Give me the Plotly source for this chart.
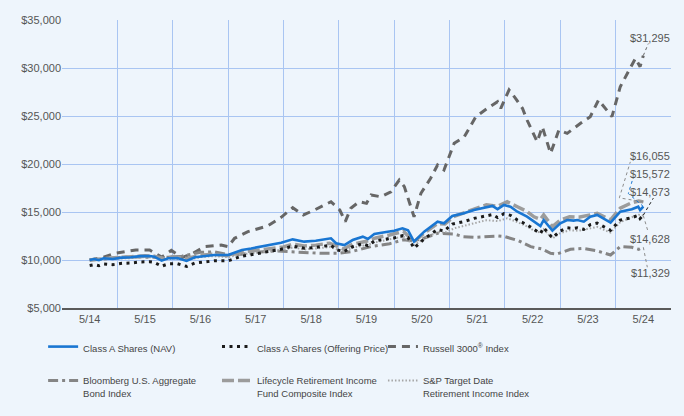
import plotly.graph_objects as go

# ---------------- data (months since 5/2014) ----------------
tick_months = [0, 12, 24, 36, 48, 60, 72, 84, 96, 108, 120]
tick_labels = ["5/14", "5/15", "5/16", "5/17", "5/18", "5/19", "5/20", "5/21", "5/22", "5/23", "5/24"]

nav_months = [0, 1, 2, 3, 5, 7, 9, 11, 13, 14, 15.6, 17, 19, 21, 22.8, 25, 27, 30, 31, 33, 35, 37,
              39.3, 41.5, 44, 46.5, 49, 50.9, 52.3, 53.4, 55.2, 57, 59.2, 60.3, 61.7, 64.6, 66, 67.8,
              69, 70.3, 72.5, 75.4, 76.8, 78.6, 81.1, 83.3, 85, 87.3, 88.4, 89.8, 91.2, 92.7, 94.8,
              96.3, 97.7, 98.4, 100.3, 102, 103.5, 104.9, 105.7, 107.1, 108.5, 110, 112.9, 115,
              117.5, 118.9, 119.3, 120]
nav_values = [10000, 10100, 9980, 10180, 10100, 10250, 10280, 10400, 10420, 10350, 9930, 10180, 10200,
              9900, 10280, 10420, 10520, 10520, 10700, 11040, 11200, 11390, 11560, 11800, 12150, 11910,
              12000, 12150, 12260, 11740, 11560, 12080, 12430, 12190, 12710, 12950, 13050, 13300, 13100,
              11910, 12950, 13990, 13820, 14580, 14860, 15210, 15400, 15630, 15300, 15730, 15550, 15030,
              14510, 13990, 13540, 14170, 13060, 13820, 14170, 14100, 14170, 13990, 14510, 14690, 13890,
              15030, 15280, 15550, 15200, 15572]
offer_values = [9423, 9517, 9404, 9593, 9517, 9659, 9687, 9800, 9819, 9753, 9357, 9593, 9611, 9329,
                9687, 9819, 9913, 9913, 10083, 10403, 10554, 10733, 10893, 11119, 11449, 11223, 11308,
                11449, 11553, 11063, 10893, 11383, 11713, 11487, 11977, 12203, 12297, 12533, 12344,
                11223, 12203, 13183, 13023, 13739, 14003, 14333, 14511, 14728, 14417, 14822, 14653,
                14163, 13673, 13183, 12759, 13353, 12306, 13023, 13353, 13286, 13353, 13183, 13673,
                13842, 13089, 14163, 14398, 14653, 14323, 14673]

russell_months = [0, 3, 5.5, 10, 13, 15.6, 17.7, 20, 22.4, 24.9, 28.5, 30, 31.4, 34.3, 38.6, 41.5, 44,
                  46.3, 48.7, 52.3, 54.2, 55.4, 56.6, 58.4, 60, 61, 63.1, 65.3, 67.1, 68.2, 70.3, 71.8,
                  73.9, 75.4, 76.8, 77.9, 79, 81.2, 83.7, 86.2, 88.4, 89.1, 90.9, 92.3, 93.8, 94.8, 97,
                  98.1, 99.9, 101.7, 103.5, 106.4, 108.5, 110.3, 113.2, 115, 117.2, 118.3, 119.3, 120]
russell_values = [10000, 10300, 10700, 11040, 11040, 10300, 11000, 10250, 10700, 11390, 11560, 11390,
                  12260, 12950, 13560, 14450, 15450, 14690, 15200, 16070, 15210, 14000, 15390, 16070,
                  15900, 16770, 16590, 17110, 18330, 17640, 14510, 16950, 18510, 19900, 19380, 20760,
                  22150, 22840, 24930, 25800, 26490, 25800, 27710, 26840, 25800, 24580, 22320, 23880,
                  21110, 23540, 23190, 24240, 24930, 26670, 24930, 28050, 30140, 31010, 30140, 31295]

bond_months = [0, 4, 8, 12, 16, 20, 24, 27, 30, 33, 36, 40, 44, 47, 50, 54, 57, 61, 65, 68, 70, 72,
               75.4, 79, 81, 83.3, 86, 88.4, 90, 93, 95.6, 98, 99.9, 101.3, 104.2, 107, 110, 112.9,
               115, 117.5, 119, 120]
bond_values = [10000, 10150, 10300, 10300, 10250, 10400, 10800, 10850, 10550, 10600, 10800, 10950,
               10850, 10700, 10700, 10700, 10900, 11400, 11700, 12100, 12000, 12200, 12780, 12700,
               12430, 12360, 12450, 12500, 12430, 12000, 11390, 11150, 10700, 10630, 11110, 11200,
               10950, 10520, 11390, 11320, 11110, 11329]

life_months = [0, 3, 6, 9, 12, 14, 16, 18, 21, 24, 27, 30, 33, 36, 39, 42, 44, 46.5, 49, 52, 55, 57,
               60, 62, 65, 68, 70.3, 72.5, 75.4, 77, 79, 81, 83.5, 86, 88.4, 90.5, 92.7, 94.8, 96.3,
               97.7, 98.4, 100.3, 102, 104, 106, 108.5, 110, 112.9, 115, 117.5, 119, 120]
life_values = [10000, 10150, 10250, 10350, 10450, 10400, 10150, 10350, 10150, 10500, 10600, 10450,
               10850, 11000, 11150, 11350, 11650, 11450, 11550, 11750, 11150, 11650, 11950, 12300,
               12600, 13000, 11900, 12800, 13800, 13750, 14550, 14900, 15300, 15750, 15600, 16070,
               15550, 15050, 14500, 14240, 14700, 13470, 14150, 14500, 14450, 14700, 14850, 14170,
               15400, 15970, 16150, 16055]
sp_values = [10000, 10100, 10150, 10200, 10300, 10250, 10000, 10150, 10000, 10300, 10400, 10300,
             10600, 10750, 10900, 11050, 11300, 11100, 11200, 11350, 10900, 11300, 11550, 11850,
             12150, 12450, 11500, 12250, 12900, 12850, 13300, 13550, 13850, 14150, 14050, 14350,
             13950, 13500, 13050, 12850, 13200, 12250, 12800, 13100, 13050, 13300, 13450, 12850,
             13950, 14450, 14700, 14628]

# ---------------- styling ----------------
BG = "#EEF5FC"
GRID = "#A9C5F2"
FONT = "Liberation Sans, Arial, sans-serif"

fig = go.Figure()

fig.add_trace(go.Scatter(x=russell_months, y=russell_values, mode="lines",
                         name="Russell 3000<sup>®</sup> Index", legend="legend3", legendrank=1,
                         legendgroup="g_r",
                         line=dict(color="#666666", width=3, dash="8px,6px")))
fig.add_trace(go.Scatter(x=bond_months, y=bond_values, mode="lines",
                         name="Bloomberg U.S. Aggregate<br>Bond Index", legend="legend", legendrank=2,
                         legendgroup="g_b",
                         line=dict(color="#858585", width=3, dash="10px,4px,3px,4px")))
fig.add_trace(go.Scatter(x=life_months, y=sp_values, mode="lines",
                         name="S&P Target Date<br>Retirement Income Index", legend="legend3",
                         legendrank=2, legendgroup="g_s",
                         line=dict(color="#A6A6A6", width=2, dash="1.5px,2px")))
fig.add_trace(go.Scatter(x=life_months, y=life_values, mode="lines",
                         name="Lifecycle Retirement Income<br>Fund Composite Index", legend="legend2",
                         legendrank=2, legendgroup="g_l",
                         line=dict(color="#9C9C9C", width=3.5, dash="12px,4px")))
fig.add_trace(go.Scatter(x=nav_months, y=offer_values, mode="lines",
                         name="Class A Shares (Offering Price)", legend="legend2", legendrank=1,
                         legendgroup="g_o",
                         line=dict(color="#1A1A1A", width=3, dash="3px,4.5px")))
fig.add_trace(go.Scatter(x=nav_months, y=nav_values, mode="lines",
                         name="Class A Shares (NAV)", legend="legend", legendrank=1,
                         legendgroup="g_n",
                         line=dict(color="#1976D2", width=2.6)))

# end-value labels with dotted leader lines
end_series = [
    (russell_values[-1], "#666666", 7, 18, "M0,0 L5,12"),
    (life_values[-1], "#8C8C8C", 7, 46, "M0,0 L-24,4 L-13,40"),
    (nav_values[-1], "#1976D2", 7, 32.5, "M0,0 L-15,13 L-11,26"),
    (offer_values[-1], "#1A1A1A", 7, 23.5, "M0,0 L10,17"),
    (sp_values[-1], "#8C8C8C", 7, -23, "M0,0 L5,-17"),
    (bond_values[-1], "#8C8C8C", 7, -26, "M0,0 L4,-20"),
]
for val, col, xs, ys, path in end_series:
    fig.add_annotation(x=120, y=val, xref="x", yref="y", text="${:,.0f}".format(val),
                       showarrow=False, xanchor="center", yanchor="middle", xshift=xs, yshift=ys,
                       font=dict(family=FONT, size=11, color="#555555"))
    fig.add_shape(type="path", xref="x", yref="y", xsizemode="pixel", ysizemode="pixel",
                  xanchor=120, yanchor=val, path=path,
                  line=dict(color=col, width=1, dash="dot"))

legend_common = dict(orientation="v", xanchor="left", yanchor="top", bgcolor="rgba(0,0,0,0)",
                     font=dict(family=FONT, size=9.5, color="#444444"), tracegroupgap=15,
                     valign="top", traceorder="grouped")

fig.update_layout(
    width=684, height=416,
    margin=dict(l=62, r=13, t=20, b=108, autoexpand=False),
    paper_bgcolor=BG, plot_bgcolor=BG,
    showlegend=True,
    legend=dict(x=-0.031, y=-0.09, **legend_common),
    legend2=dict(x=0.2545, y=-0.09, **legend_common),
    legend3=dict(x=0.527, y=-0.09, **legend_common),
    font=dict(family=FONT, size=11, color="#555555"),
)

fig.update_xaxes(range=[-6, 126], tickmode="array", tickvals=tick_months, ticktext=tick_labels,
                 showgrid=False, zeroline=False, ticks="", showline=True, linecolor="#5A5A5A",
                 linewidth=1.5, tickfont=dict(family=FONT, size=11, color="#555555"),
                 minor=dict(tickvals=[m - 6 for m in tick_months] + [126], showgrid=True,
                            gridcolor=GRID, gridwidth=1, ticks=""))
fig.update_yaxes(range=[5000, 35000], dtick=5000, tickprefix="$", tickformat=",d",
                 showgrid=True, gridcolor=GRID, gridwidth=1, zeroline=False, ticks="",
                 showline=False, tickfont=dict(family=FONT, size=11, color="#555555"))

fig.write_html("out.html", config={"displayModeBar": False},
               post_script="document.body.style.margin='0';document.body.style.background='%s';" % BG)
